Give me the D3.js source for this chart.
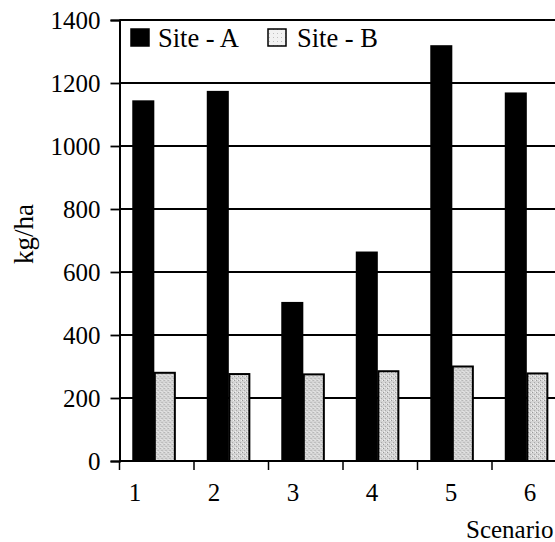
<!DOCTYPE html>
<html>
<head>
<meta charset="utf-8">
<script src="https://cdn.jsdelivr.net/npm/d3@7"></script>
<style>
  html, body { margin: 0; padding: 0; background: #fff; }
  svg { display: block; }
  text { font-family: "Liberation Serif", "Times New Roman", serif; fill: #000; }
</style>
</head>
<body>
<svg id="chart" width="555" height="542"></svg>
<script>
const categories = ["1", "2", "3", "4", "5", "6"];
const seriesNames = ["Site - A", "Site - B"];
const siteA = [1145, 1175, 505, 665, 1320, 1170];
const siteB = [280, 276, 275, 285, 300, 278];
const yTicks = [0, 200, 400, 600, 800, 1000, 1200, 1400];
const yLabel = "kg/ha";
const xLabel = "Scenario";

const svg = d3.select("#chart");
const W = 555;
const plotLeft = 119.5, plotTop = 20, plotBottom = 461, bandW = 74.5;

const defs = svg.append("defs");
const pat = defs.append("pattern").attr("id", "stip").attr("patternUnits", "userSpaceOnUse")
  .attr("width", 4).attr("height", 4);
pat.append("rect").attr("width", 4).attr("height", 4).attr("fill", "#d4d4d4");
pat.append("rect").attr("x", 0).attr("y", 0).attr("width", 1).attr("height", 1).attr("fill", "#9a9a9a");
pat.append("rect").attr("x", 2).attr("y", 2).attr("width", 1).attr("height", 1).attr("fill", "#a8a8a8");
pat.append("rect").attr("x", 3).attr("y", 0).attr("width", 1).attr("height", 1).attr("fill", "#f0f0f0");
pat.append("rect").attr("x", 1).attr("y", 3).attr("width", 1).attr("height", 1).attr("fill", "#eeeeee");

const pat2 = defs.append("pattern").attr("id", "stipLight").attr("patternUnits", "userSpaceOnUse")
  .attr("width", 4).attr("height", 4);
pat2.append("rect").attr("width", 4).attr("height", 4).attr("fill", "#f2f2f2");
pat2.append("rect").attr("x", 1).attr("y", 1).attr("width", 1).attr("height", 1).attr("fill", "#c0c0c0");

const x = d3.scaleBand().domain(categories).range([plotLeft, plotLeft + bandW * categories.length]).padding(0);
const xs = d3.scaleBand().domain(seriesNames).range([0, x.bandwidth()]).paddingInner(0).paddingOuter(0.69).align(0.42);
const xLab = d3.scalePoint().domain(categories).range([135, 530]);
const y = d3.scaleLinear().domain([0, 1400]).range([plotBottom, plotTop]);

// gridlines
svg.append("g").selectAll("line").data(yTicks.filter(d => d > 0)).join("line")
  .attr("x1", plotLeft).attr("x2", W)
  .attr("y1", d => y(d)).attr("y2", d => y(d))
  .attr("stroke", "#000").attr("stroke-width", 1.8);

// bars
const data = categories.map((c, i) => ({ c, vals: [siteA[i], siteB[i]] }));
const g = svg.append("g").selectAll("g").data(data).join("g")
  .attr("transform", d => `translate(${x(d.c)},0)`);
g.append("rect")
  .attr("x", xs(seriesNames[0])).attr("width", xs.bandwidth())
  .attr("y", d => y(d.vals[0])).attr("height", d => y(0) - y(d.vals[0]))
  .attr("fill", "#000");
g.append("rect")
  .attr("x", xs(seriesNames[1]) + 0.5).attr("width", xs.bandwidth() - 2)
  .attr("y", d => y(d.vals[1])).attr("height", d => y(0) - y(d.vals[1]))
  .attr("fill", "url(#stip)").attr("stroke", "#000").attr("stroke-width", 2);

// y axis
const yAxis = svg.append("g").attr("transform", `translate(${plotLeft},0)`)
  .call(d3.axisLeft(y).tickValues(yTicks).tickFormat(d3.format("d")).tickSize(9).tickPadding(10));
yAxis.select(".domain").attr("stroke-width", 2);
yAxis.selectAll(".tick line").attr("stroke-width", 1.8);
yAxis.selectAll("text").attr("font-size", 25).attr("fill", "#000");

// top frame
svg.append("line").attr("x1", plotLeft).attr("x2", W).attr("y1", plotTop).attr("y2", plotTop)
  .attr("stroke", "#000").attr("stroke-width", 2);

// x axis
svg.append("line").attr("x1", plotLeft).attr("x2", W).attr("y1", plotBottom).attr("y2", plotBottom)
  .attr("stroke", "#000").attr("stroke-width", 2);
svg.append("g").selectAll("line").data(categories).join("line")
  .attr("x1", d => x(d)).attr("x2", d => x(d))
  .attr("y1", plotBottom).attr("y2", plotBottom + 9)
  .attr("stroke", "#000").attr("stroke-width", 1.5);
svg.append("g").selectAll("text").data(categories).join("text")
  .attr("x", d => xLab(d)).attr("y", 501)
  .attr("text-anchor", "middle").attr("font-size", 25).text(d => d);

// axis titles
svg.append("text").attr("transform", "translate(33,234) rotate(-90)")
  .attr("text-anchor", "middle").attr("font-size", 27).text(yLabel);
svg.append("text").attr("x", 466).attr("y", 538).attr("font-size", 25).text(xLabel);

// legend
const leg = svg.append("g");
const legItems = [
  { name: seriesNames[0], fill: "#000", sx: 131, tx: 158 },
  { name: seriesNames[1], fill: "url(#stipLight)", sx: 268, tx: 297 }
];
leg.selectAll("rect").data(legItems).join("rect")
  .attr("x", d => d.sx).attr("y", 29).attr("width", 18).attr("height", 17)
  .attr("fill", d => d.fill).attr("stroke", "#000").attr("stroke-width", 1.5);
leg.selectAll("text").data(legItems).join("text")
  .attr("x", d => d.tx).attr("y", 47).attr("font-size", 26.5).text(d => d.name);
</script>
</body>
</html>
